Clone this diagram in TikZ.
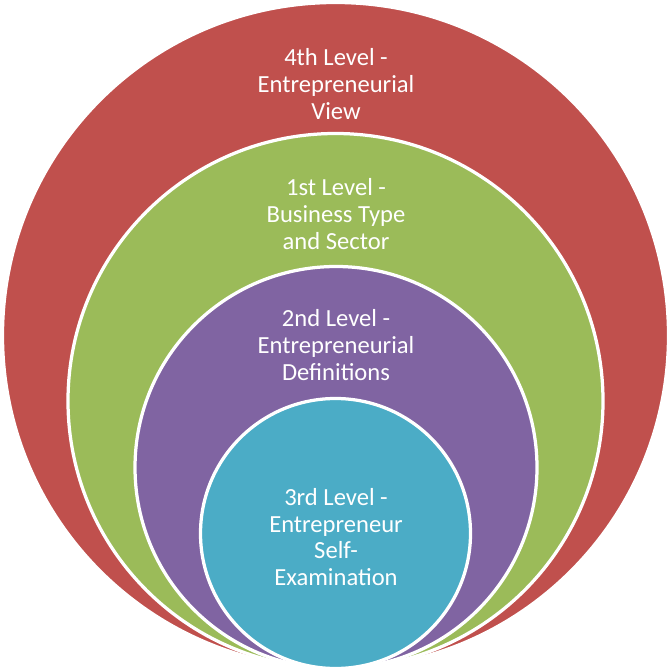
\documentclass[tikz,border=0pt]{standalone}
\usepackage{fontspec}
\setmainfont{Carlito}
\usepackage{tikz}

\definecolor{lvlred}{HTML}{C0504D}
\definecolor{lvlgreen}{HTML}{9BBB59}
\definecolor{lvlpurple}{HTML}{8064A2}
\definecolor{lvlteal}{HTML}{4BACC6}

\tikzset{
  ring/.style={draw=white, line width=0.065cm},
  lbl/.style={text=white, align=center, font=\fontsize{14}{15.2}\selectfont}
}

\begin{document}
\begin{tikzpicture}[x=0.02cm, y=-0.02cm]
\useasboundingbox (0,0) rectangle (668,668);
\filldraw[ring, fill=lvlred] (335.5,335.5) circle (333);
\filldraw[ring, fill=lvlgreen] (335.5,401) circle (267.5);
\filldraw[ring, fill=lvlpurple] (336,467.5) circle (201);
\filldraw[ring, fill=lvlteal] (335.5,533.5) circle (135);
\node[lbl] (view) at (336,84) {4th Level -\\Entrepreneurial\\View};
\node[lbl] (sector) at (336,214) {1st Level -\\Business Type\\and Sector};
\node[lbl] (defs) at (336,345) {2nd Level -\\Entrepreneurial\\Definitions};
\node[lbl] (self) at (336,537) {3rd Level -\\Entrepreneur\\Self-\\Examination};
\end{tikzpicture}
\end{document}
